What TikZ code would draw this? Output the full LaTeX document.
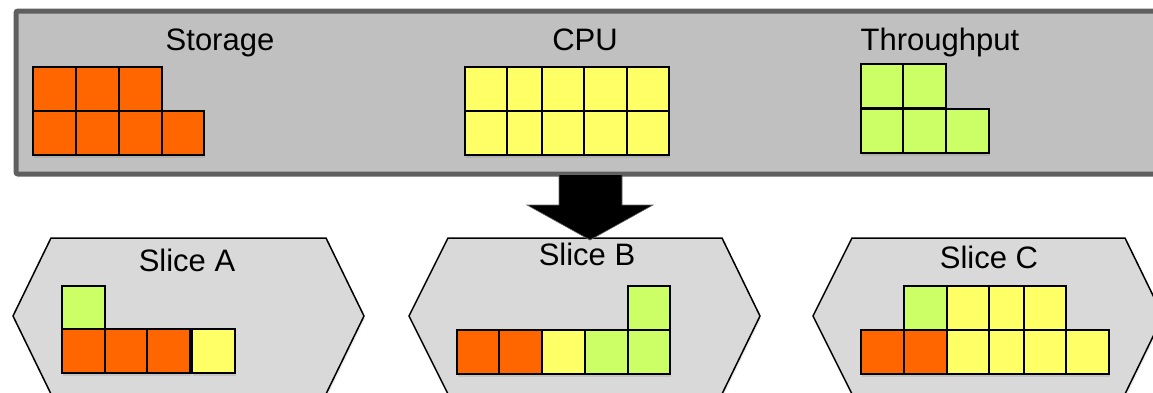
\documentclass[tikz,border=0pt]{standalone}
\usepackage{fontspec}
\setmainfont{Liberation Sans}
\usetikzlibrary{shadows}
\definecolor{cOr}{HTML}{FF6600}
\definecolor{cYe}{HTML}{FFFF66}
\definecolor{cGr}{HTML}{CCFF66}
\definecolor{barfill}{HTML}{C0C0C0}
\definecolor{barline}{HTML}{5F5F5F}
\definecolor{slicefill}{HTML}{D9D9D9}
\tikzset{
  cell/.style={draw=black, line width=1.5pt, inner sep=0pt, outer sep=0pt,
    anchor=north west, minimum height=44pt,
    drop shadow={shadow xshift=1pt, shadow yshift=-3pt, opacity=0.22}},
  lbl/.style={font=\fontsize{31}{37}\selectfont, anchor=base, inner sep=0pt},
  hexa/.style={draw=black, line width=1.5pt, fill=slicefill, line join=miter,
    drop shadow={shadow xshift=1pt, shadow yshift=-3pt, opacity=0.15}},
  bigarrow/.style={fill=black, draw=black!60, line width=0.6pt}
}
\newcommand\cellat[5]{\node[cell, fill=#5, minimum width=#4pt] (#1) at (#2,#3) {};}
\begin{document}
\begin{tikzpicture}[x=1pt,y=-1pt]
\clip (0,0) rectangle (1153,392);
\useasboundingbox (0,0) rectangle (1153,392);
% top bar
\node[draw=barline, fill=barfill, line width=5pt, rounded corners=2pt,
  anchor=north west, inner sep=0pt, minimum width=1160pt, minimum height=163pt] (bar) at (13.5,8.5) {};
\node[lbl] (tStorage) at (220,50) {Storage};
\node[lbl] (tCPU) at (585,50) {CPU};
\node[lbl] (tThr) at (940,50) {Throughput};
% storage
\cellat{s1}{33}{67}{43}{cOr}\cellat{s2}{76}{67}{43}{cOr}\cellat{s3}{119}{67}{43}{cOr}
\cellat{s4}{33}{111}{43}{cOr}\cellat{s5}{76}{111}{43}{cOr}\cellat{s6}{119}{111}{43}{cOr}\cellat{s7}{162}{111}{42}{cOr}
% cpu
\cellat{c1}{465}{67}{42}{cYe}\cellat{c2}{507}{67}{35}{cYe}\cellat{c3}{542}{67}{42}{cYe}\cellat{c4}{584}{67}{43}{cYe}\cellat{c5}{627}{67}{42}{cYe}
\cellat{c6}{465}{111}{42}{cYe}\cellat{c7}{507}{111}{35}{cYe}\cellat{c8}{542}{111}{42}{cYe}\cellat{c9}{584}{111}{43}{cYe}\cellat{c10}{627}{111}{42}{cYe}
% throughput
\cellat{t1}{861}{64}{42}{cGr}\cellat{t2}{903}{64}{43}{cGr}
\cellat{t3}{861}{109}{42}{cGr}\cellat{t4}{903}{109}{43}{cGr}\cellat{t5}{946}{109}{43}{cGr}
% slices
\path[hexa] (51,238) -- (326,238) -- (364,316) -- (326,394) -- (51,394) -- (13,316) -- cycle;
\path[hexa] (448,238) -- (722,238) -- (760,316) -- (722,394) -- (448,394) -- (409,316) -- cycle;
\path[hexa] (852,238) -- (1125,238) -- (1163,316) -- (1125,394) -- (852,394) -- (813,316) -- cycle;
\node[lbl] (tA) at (187,271) {Slice A};
\node[lbl] (tB) at (587,265) {Slice B};
\node[lbl] (tC) at (989,268) {Slice C};
% slice A
\cellat{a1}{62}{286}{43}{cGr}
\cellat{a2}{62}{329}{43}{cOr}\cellat{a3}{105}{329}{42}{cOr}\cellat{a4}{147}{329}{43}{cOr}\cellat{a5}{192}{329}{43}{cYe}
% slice B
\cellat{b6}{628}{286}{42}{cGr}
\cellat{b1}{457}{330}{42}{cOr}\cellat{b2}{499}{330}{43}{cOr}\cellat{b3}{542}{330}{43}{cYe}\cellat{b4}{585}{330}{43}{cGr}\cellat{b5}{628}{330}{42}{cGr}
% slice C
\cellat{k1}{904}{286}{43}{cGr}\cellat{k2}{947}{286}{42}{cYe}\cellat{k3}{989}{286}{35}{cYe}\cellat{k4}{1024}{286}{42}{cYe}
\cellat{k5}{861}{330}{43}{cOr}\cellat{k6}{904}{330}{43}{cOr}\cellat{k7}{947}{330}{42}{cYe}\cellat{k8}{989}{330}{35}{cYe}\cellat{k9}{1024}{330}{42}{cYe}\cellat{k10}{1066}{330}{43}{cYe}
% arrow
\path[bigarrow] (559,174.5) -- (622,174.5) -- (622,205) -- (653,205) -- (590,240) -- (527,205) -- (559,205) -- cycle;
\end{tikzpicture}
\end{document}
